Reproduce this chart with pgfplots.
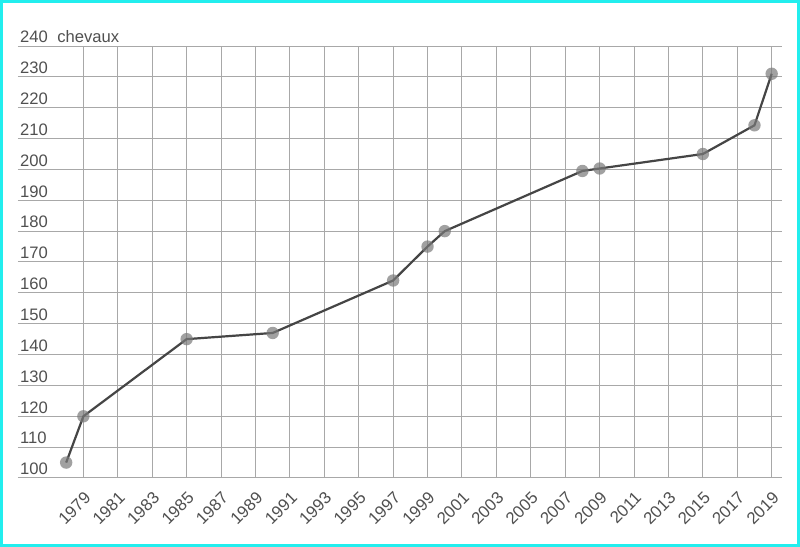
\documentclass[border=0pt]{standalone}
\usepackage{pgfplots}
\pgfplotsset{compat=1.18}
\usepackage{fontspec}
\setmainfont{Liberation Sans}
\definecolor{gridc}{HTML}{A8A8A8}
\definecolor{linec}{HTML}{454545}
\definecolor{markc}{HTML}{7A7A7A}
\definecolor{txtc}{HTML}{505050}
\definecolor{framec}{HTML}{22EEEE}
\begin{document}
\begin{tikzpicture}[x=0.5pt,y=0.5pt]
\useasboundingbox (0,0) rectangle (800,547);
\fill[white] (0,0) rectangle (800,547);
\draw[framec,line width=1.5pt] (1.5,1.5) rectangle (798.5,545.5);
\begin{axis}[
  at={(18pt*0.5,69pt*0.5)}, anchor=south west,
  scale only axis,
  width=382pt, height=216pt,
  xmin=1975.2, xmax=2019.6,
  ymin=100, ymax=240,
  xtick={1979,1981,...,2019},
  ytick={100,110,...,240},
  xticklabel style={xshift=0pt, yshift=-1.5pt, rotate=45, anchor=north east, font=\fontsize{8.4}{10}\selectfont, text=txtc},
  yticklabel style={xshift=-2.5pt, yshift=-2pt, anchor=south west, font=\fontsize{8.3}{10}\selectfont, text=txtc},
  xticklabel={\pgfmathprintnumber[1000 sep={}]{\tick}},
  /pgf/number format/assume math mode=true,
  grid=major,
  major grid style={gridc, line width=0.5pt},
  axis line style={draw=none},
  tick style={draw=none},
  clip=false,
]
\addplot[linec, line width=1.1pt, mark=*, mark size=3.1pt,
  mark options={solid, draw=markc, draw opacity=0, fill=markc, fill opacity=0.7}]
  coordinates {
  (1978,105) (1979,120) (1985,145) (1990,147) (1997,164) (1999,175)
  (2000,180) (2008,199.5) (2009,200.3) (2015,205) (2018,214.3) (2019,231)
  };
\node[anchor=south west, font=\fontsize{8.3}{10}\selectfont, text=txtc, inner sep=0pt]
  at (rel axis cs:0,1) [xshift=19.5pt, yshift=1.5pt] {chevaux};
\end{axis}
\end{tikzpicture}
\end{document}
